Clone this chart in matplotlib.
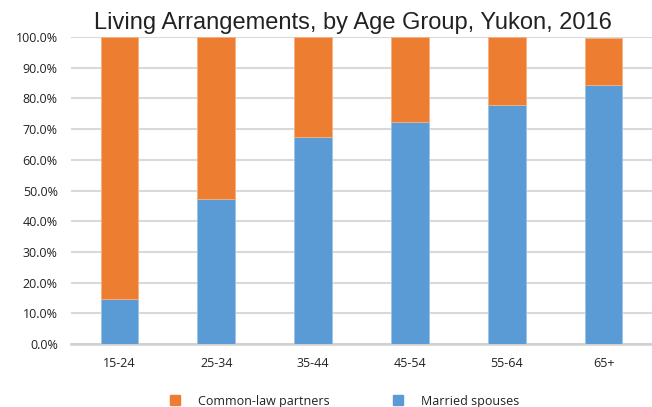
import matplotlib
matplotlib.use("Agg")
import matplotlib.pyplot as plt
from matplotlib.lines import Line2D
import numpy as np

categories = ["15-24", "25-34", "35-44", "45-54", "55-64", "65+"]
married = [14.6, 47.2, 67.3, 72.2, 77.9, 84.5]
common_law = [85.4, 52.8, 32.7, 27.8, 22.1, 15.2]
yticks = [0, 10, 20, 30, 40, 50, 60, 70, 80, 90, 100]

blue = "#5B9BD5"
orange = "#ED7D31"

fig = plt.figure(figsize=(6.52, 4.07), dpi=100)
ax = fig.add_axes([71/652, 1-344/407, 581/652, 307/407])

x = np.arange(len(categories))
w = 0.39
ax.bar(x, married, width=w, color=blue, edgecolor="#9cc3e6", linewidth=0.6, zorder=3)
ax.bar(x, common_law, width=w, bottom=married, color=orange, edgecolor="#f4b183", linewidth=0.6, zorder=3)

ax.set_xlim(-0.5, len(categories) - 0.5)
ax.set_ylim(0, 100)
ax.set_yticks(yticks)
ax.set_yticklabels([f"{v:.1f}%" for v in yticks], fontsize=9, family="Open Sans", color="#222222")
ax.set_xticks(x)
ax.set_xticklabels(categories, fontsize=9, family="Open Sans", color="#222222")
ax.tick_params(axis="both", length=0)
ax.tick_params(axis="y", pad=9.5)
ax.tick_params(axis="x", pad=9.5)
ax.grid(axis="y", color="#d9d9d9", linewidth=1.5, zorder=0)
for s in ["top", "right", "left"]:
    ax.spines[s].set_visible(False)
ax.spines["bottom"].set_color("#d0d0d0")
ax.spines["bottom"].set_linewidth(1.8)

fig.text(353/652, 1-29/407, "Living Arrangements, by Age Group, Yukon, 2016",
         ha="center", va="baseline", fontsize=17, family="Liberation Sans", color="#222222")

handles = [Line2D([], [], marker="s", linestyle="none", markersize=7, color=orange),
           Line2D([], [], marker="s", linestyle="none", markersize=7, color=blue)]
leg = fig.legend(handles, ["Common-law partners", "Married spouses"], ncol=2,
                 loc="center", bbox_to_anchor=(344/652, 1-401/407), frameon=False,
                 prop={"family": "Open Sans", "size": 9}, columnspacing=5.0,
                 handletextpad=1.35, handlelength=1.0)
for t in leg.get_texts():
    t.set_color("#222222")

fig.savefig("out.png", dpi=100)
